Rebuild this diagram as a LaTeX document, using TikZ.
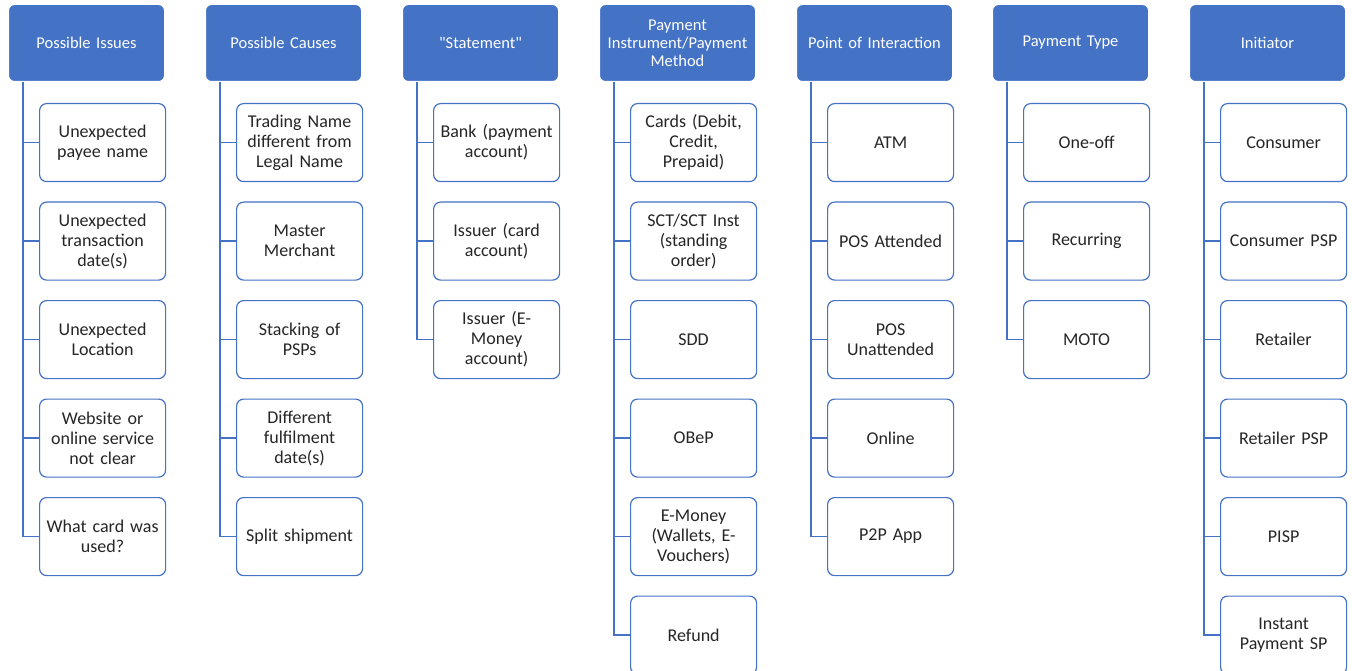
\documentclass[tikz,border=0pt]{standalone}
\usepackage{fontspec}
\setmainfont{Carlito}
\usepackage{tikz}
\definecolor{headblue}{HTML}{4472C4}
\definecolor{itemtext}{HTML}{262626}
\tikzset{
  head/.style={draw=white, fill=headblue, line width=1pt, rounded corners=6pt,
    text=white, minimum width=156pt, minimum height=77pt, text width=152pt,
    align=center, inner sep=0pt, anchor=north west,
    font=\fontsize{16.5}{18}\selectfont},
  item/.style={draw=headblue, fill=white, line width=1.2pt, rounded corners=7pt,
    text=itemtext, minimum width=126pt, minimum height=78pt, text width=124pt,
    align=center, inner sep=0pt, anchor=north west,
    font=\fontsize{18}{20}\selectfont},
  link/.style={headblue, line width=1.3pt}
}
\begin{document}
\begin{tikzpicture}[x=1pt,y=-1pt]
  \useasboundingbox (0,0) rectangle (1352,671);

  % Headers
  \node[head] (issues) at (8,4) {Possible Issues};
  \node[head] (causes) at (205,4) {Possible Causes};
  \node[head] (statement) at (402,4) {\textquotedbl Statement\textquotedbl};
  \node[head] (instrument) at (599,4) {Payment\\Instrument/Payment\\Method};
  \node[head] (interaction) at (796,4) {Point of Interaction};
  \node[head] (paytype) at (992,4) {Payment Type};
  \node[head] (initiator) at (1189,4) {Initiator};

  % Possible issues
  \foreach \txt [count=\j] in {{Unexpected\\payee name},
      {Unexpected\\transaction\\date(s)}, {Unexpected\\Location},
      {Website or\\online service\\not clear}, {What card was\\used?}}
    \node[item] (issues-\j) at (39,{103+98.5*(\j-1)}) {\txt};
  \foreach \j in {1,...,5}
    \draw[link] ([xshift=15pt]issues.south west) |- (issues-\j.west);

  % Possible causes
  \foreach \txt [count=\j] in {{Trading Name\\different from\\Legal Name},
      {Master\\Merchant}, {Stacking of\\PSPs},
      {Different\\fulfilment\\date(s)}, {Split shipment}}
    \node[item] (causes-\j) at (236,{103+98.5*(\j-1)}) {\txt};
  \foreach \j in {1,...,5}
    \draw[link] ([xshift=15pt]causes.south west) |- (causes-\j.west);

  % Statement
  \foreach \txt [count=\j] in {{Bank (payment\\account)},
      {Issuer (card\\account)}, {Issuer (E-\\Money\\account)}}
    \node[item] (statement-\j) at (433,{103+98.5*(\j-1)}) {\txt};
  \foreach \j in {1,...,3}
    \draw[link] ([xshift=15pt]statement.south west) |- (statement-\j.west);

  % Payment instrument / method
  \foreach \txt [count=\j] in {{Cards (Debit,\\Credit,\\Prepaid)},
      {SCT/SCT Inst\\(standing\\order)}, {SDD}, {OBeP},
      {E-Money\\(Wallets, E-\\Vouchers)}, {Refund}}
    \node[item] (instrument-\j) at (630,{103+98.5*(\j-1)}) {\txt};
  \foreach \j in {1,...,6}
    \draw[link] ([xshift=15pt]instrument.south west) |- (instrument-\j.west);

  % Point of interaction
  \foreach \txt [count=\j] in {{ATM}, {POS Attended}, {POS\\Unattended},
      {Online}, {P2P App}}
    \node[item] (interaction-\j) at (827,{103+98.5*(\j-1)}) {\txt};
  \foreach \j in {1,...,5}
    \draw[link] ([xshift=15pt]interaction.south west) |- (interaction-\j.west);

  % Payment type
  \foreach \txt [count=\j] in {{One-off}, {Recurring}, {MOTO}}
    \node[item] (paytype-\j) at (1023,{103+98.5*(\j-1)}) {\txt};
  \foreach \j in {1,...,3}
    \draw[link] ([xshift=15pt]paytype.south west) |- (paytype-\j.west);

  % Initiator
  \foreach \txt [count=\j] in {{Consumer}, {Consumer PSP}, {Retailer},
      {Retailer PSP}, {PISP}, {Instant\\Payment SP}}
    \node[item] (initiator-\j) at (1220,{103+98.5*(\j-1)}) {\txt};
  \foreach \j in {1,...,6}
    \draw[link] ([xshift=15pt]initiator.south west) |- (initiator-\j.west);
\end{tikzpicture}
\end{document}
